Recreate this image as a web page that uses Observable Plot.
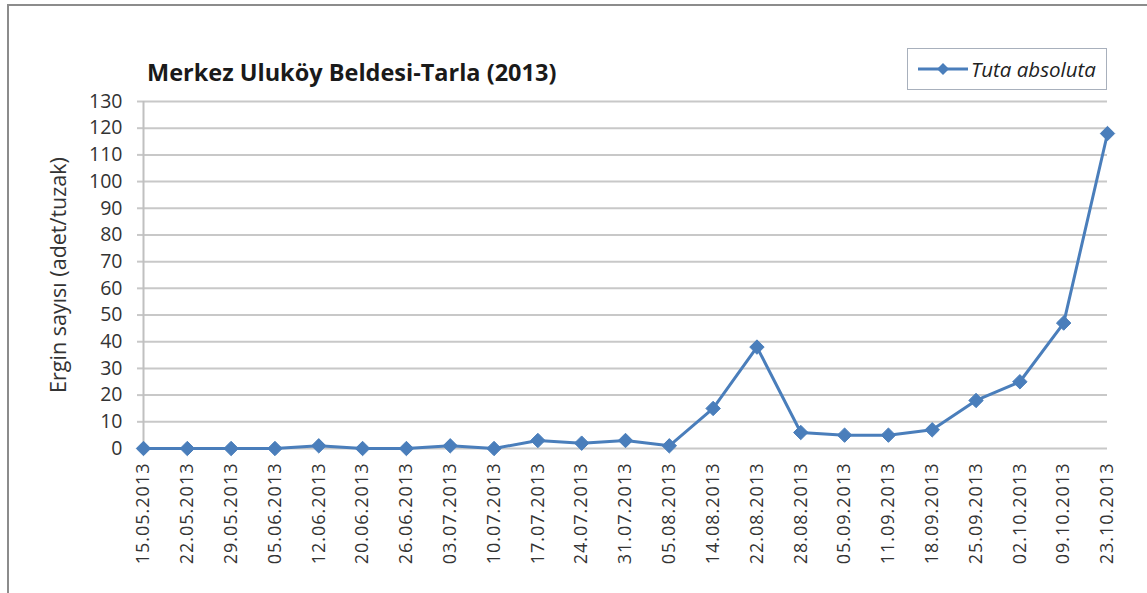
<!DOCTYPE html>
<html>
<head>
<meta charset="utf-8">
<script src="https://cdn.jsdelivr.net/npm/d3@7"></script>
<script src="https://cdn.jsdelivr.net/npm/@observablehq/plot@0.6"></script>
<style>
  html, body { margin: 0; padding: 0; background: #fff; }
  #wrap { position: relative; width: 1147px; height: 593px; overflow: hidden; font-family: "Open Sans", sans-serif; }
  #frame { position: absolute; left: 7px; top: 4px; width: 1160px; height: 620px; border-left: 2px solid #8c8c8c; border-top: 2px solid #8c8c8c; box-sizing: border-box; pointer-events: none; }
  #title { position: absolute; left: 147px; top: 56px; font-weight: bold; font-size: 23.5px; color: #1a1a1a; white-space: nowrap; }
  #legend { position: absolute; left: 907px; top: 48px; width: 200px; height: 42px; border: 1px solid #a8b0bc; box-sizing: border-box; display: flex; align-items: center; padding-left: 8px; background: #fff; }
  #legend span { font-style: italic; font-size: 20.5px; color: #222; margin-left: 1px; white-space: nowrap; }
  #chart { position: absolute; left: 0; top: 0; }
  g[aria-label="x-axis tick label"] text { letter-spacing: 1px; }
</style>
</head>
<body>
<div id="wrap">
  <div id="chart"></div>
  <div id="frame"></div>
  <div id="title">Merkez Uluköy Beldesi-Tarla (2013)</div>
  <div id="legend"></div>
</div>
<script>
const dates = ["15.05.2013","22.05.2013","29.05.2013","05.06.2013","12.06.2013","20.06.2013","26.06.2013","03.07.2013","10.07.2013","17.07.2013","24.07.2013","31.07.2013","05.08.2013","14.08.2013","22.08.2013","28.08.2013","05.09.2013","11.09.2013","18.09.2013","25.09.2013","02.10.2013","09.10.2013","23.10.2013"];
const values = [0,0,0,0,1,0,0,1,0,3,2,3,1,15,38,6,5,5,7,18,25,47,118];
const yTicks = [0,10,20,30,40,50,60,70,80,90,100,110,120,130];
const seriesName = "Tuta absoluta";
const yLabel = "Ergin sayısı (adet/tuzak)";
const lineColor = "#4a7ebb";

const idx = dates.map((d, i) => i);
const data = dates.map((d, i) => ({i, date: d, value: values[i]}));

const chart = Plot.plot({
  width: 1147,
  height: 593,
  marginLeft: 143,
  marginRight: 40,
  marginTop: 101,
  marginBottom: 145,
  style: {fontFamily: "Open Sans, sans-serif", background: "transparent"},
  x: {type: "linear", domain: [0, dates.length - 1]},
  y: {domain: [0, 130]},
  marks: [
    Plot.gridY(yTicks, {stroke: "#c8c8c8", strokeOpacity: 1, strokeWidth: 2}),
    Plot.axisY(yTicks, {tickSize: 6, tickPadding: 15, stroke: "#c8c8c8", strokeWidth: 2, fontSize: 19.5, fill: "#333", label: null}),
    Plot.ruleX([0], {stroke: "#c0c0c0", strokeWidth: 2}),
    Plot.axisX(idx, {tickSize: 0, tickPadding: 14, tickRotate: -90, fontSize: 18, fill: "#333", label: null, tickFormat: i => dates[i]}),
    Plot.text([yLabel], {frameAnchor: "left", dx: -84, rotate: -90, textAnchor: "middle", fontSize: 21.5, fill: "#333", text: d => d}),
    Plot.line(data, {x: "i", y: "value", stroke: lineColor, strokeWidth: 3}),
    Plot.dot(data, {x: "i", y: "value", symbol: "diamond2", r: 6.5, fill: lineColor, stroke: lineColor, strokeWidth: 1})
  ]
});
document.getElementById("chart").appendChild(chart);

const legend = document.getElementById("legend");
legend.innerHTML = `<svg width="54" height="16"><line x1="2" y1="8" x2="52" y2="8" stroke="${lineColor}" stroke-width="3"/><path d="M27,2 L33,8 L27,14 L21,8 Z" fill="${lineColor}"/></svg><span>${seriesName}</span>`;
</script>
</body>
</html>
